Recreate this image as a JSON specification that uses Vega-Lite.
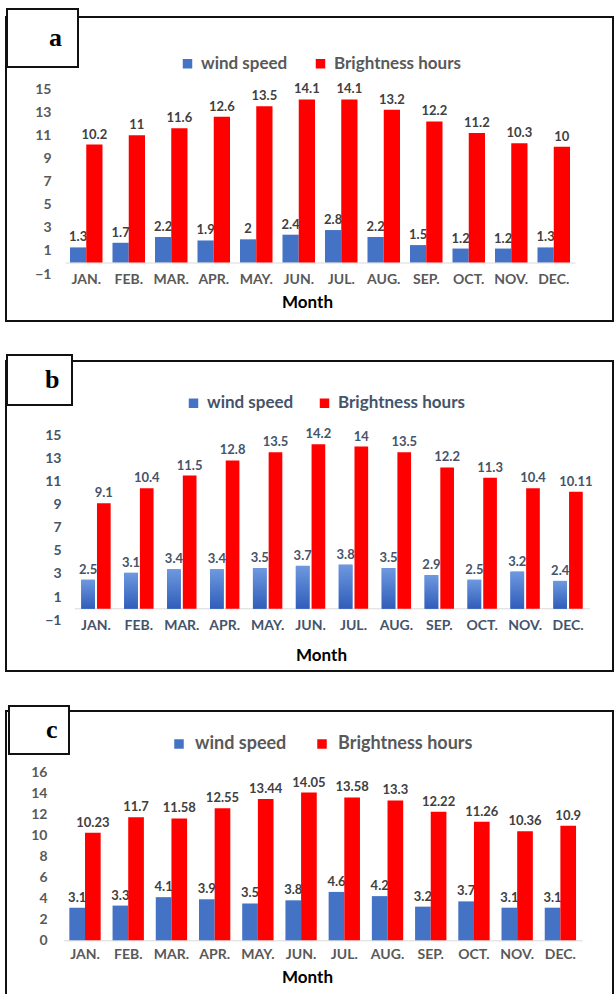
{
  "$schema": "https://vega.github.io/schema/vega-lite/v6.json",
  "padding": {"left": 5, "top": 7, "right": 0, "bottom": 0},
  "autosize": {"type": "pad"},
  "bounds": "flush",
  "spacing": 40,
  "background": "white",
  "config": {
    "view": {"stroke": "#111111", "strokeWidth": 2},
    "font": "Lato",
    "axis": {"grid": false, "labelFont": "Lato", "labelFontWeight": "bold", "titleFont": "Lato"},
    "legend": {"padding": 0, "strokeWidth": 2}
  },
  "datasets": {
    "a": [
      {"panel": "a", "month": "JAN.", "series": "wind speed", "value": 1.3},
      {"panel": "a", "month": "JAN.", "series": "Brightness hours", "value": 10.2},
      {"panel": "a", "month": "FEB.", "series": "wind speed", "value": 1.7},
      {"panel": "a", "month": "FEB.", "series": "Brightness hours", "value": 11},
      {"panel": "a", "month": "MAR.", "series": "wind speed", "value": 2.2},
      {"panel": "a", "month": "MAR.", "series": "Brightness hours", "value": 11.6},
      {"panel": "a", "month": "APR.", "series": "wind speed", "value": 1.9},
      {"panel": "a", "month": "APR.", "series": "Brightness hours", "value": 12.6},
      {"panel": "a", "month": "MAY.", "series": "wind speed", "value": 2},
      {"panel": "a", "month": "MAY.", "series": "Brightness hours", "value": 13.5},
      {"panel": "a", "month": "JUN.", "series": "wind speed", "value": 2.4},
      {"panel": "a", "month": "JUN.", "series": "Brightness hours", "value": 14.1},
      {"panel": "a", "month": "JUL.", "series": "wind speed", "value": 2.8},
      {"panel": "a", "month": "JUL.", "series": "Brightness hours", "value": 14.1},
      {"panel": "a", "month": "AUG.", "series": "wind speed", "value": 2.2},
      {"panel": "a", "month": "AUG.", "series": "Brightness hours", "value": 13.2},
      {"panel": "a", "month": "SEP.", "series": "wind speed", "value": 1.5},
      {"panel": "a", "month": "SEP.", "series": "Brightness hours", "value": 12.2},
      {"panel": "a", "month": "OCT.", "series": "wind speed", "value": 1.2},
      {"panel": "a", "month": "OCT.", "series": "Brightness hours", "value": 11.2},
      {"panel": "a", "month": "NOV.", "series": "wind speed", "value": 1.2},
      {"panel": "a", "month": "NOV.", "series": "Brightness hours", "value": 10.3},
      {"panel": "a", "month": "DEC.", "series": "wind speed", "value": 1.3},
      {"panel": "a", "month": "DEC.", "series": "Brightness hours", "value": 10}
    ],
    "b": [
      {"panel": "b", "month": "JAN.", "series": "wind speed", "value": 2.5},
      {"panel": "b", "month": "JAN.", "series": "Brightness hours", "value": 9.1},
      {"panel": "b", "month": "FEB.", "series": "wind speed", "value": 3.1},
      {"panel": "b", "month": "FEB.", "series": "Brightness hours", "value": 10.4},
      {"panel": "b", "month": "MAR.", "series": "wind speed", "value": 3.4},
      {"panel": "b", "month": "MAR.", "series": "Brightness hours", "value": 11.5},
      {"panel": "b", "month": "APR.", "series": "wind speed", "value": 3.4},
      {"panel": "b", "month": "APR.", "series": "Brightness hours", "value": 12.8},
      {"panel": "b", "month": "MAY.", "series": "wind speed", "value": 3.5},
      {"panel": "b", "month": "MAY.", "series": "Brightness hours", "value": 13.5},
      {"panel": "b", "month": "JUN.", "series": "wind speed", "value": 3.7},
      {"panel": "b", "month": "JUN.", "series": "Brightness hours", "value": 14.2},
      {"panel": "b", "month": "JUL.", "series": "wind speed", "value": 3.8},
      {"panel": "b", "month": "JUL.", "series": "Brightness hours", "value": 14},
      {"panel": "b", "month": "AUG.", "series": "wind speed", "value": 3.5},
      {"panel": "b", "month": "AUG.", "series": "Brightness hours", "value": 13.5},
      {"panel": "b", "month": "SEP.", "series": "wind speed", "value": 2.9},
      {"panel": "b", "month": "SEP.", "series": "Brightness hours", "value": 12.2},
      {"panel": "b", "month": "OCT.", "series": "wind speed", "value": 2.5},
      {"panel": "b", "month": "OCT.", "series": "Brightness hours", "value": 11.3},
      {"panel": "b", "month": "NOV.", "series": "wind speed", "value": 3.2},
      {"panel": "b", "month": "NOV.", "series": "Brightness hours", "value": 10.4},
      {"panel": "b", "month": "DEC.", "series": "wind speed", "value": 2.4},
      {"panel": "b", "month": "DEC.", "series": "Brightness hours", "value": 10.11}
    ],
    "c": [
      {"panel": "c", "month": "JAN.", "series": "wind speed", "value": 3.1},
      {"panel": "c", "month": "JAN.", "series": "Brightness hours", "value": 10.23},
      {"panel": "c", "month": "FEB.", "series": "wind speed", "value": 3.3},
      {"panel": "c", "month": "FEB.", "series": "Brightness hours", "value": 11.7},
      {"panel": "c", "month": "MAR.", "series": "wind speed", "value": 4.1},
      {"panel": "c", "month": "MAR.", "series": "Brightness hours", "value": 11.58},
      {"panel": "c", "month": "APR.", "series": "wind speed", "value": 3.9},
      {"panel": "c", "month": "APR.", "series": "Brightness hours", "value": 12.55},
      {"panel": "c", "month": "MAY.", "series": "wind speed", "value": 3.5},
      {"panel": "c", "month": "MAY.", "series": "Brightness hours", "value": 13.44},
      {"panel": "c", "month": "JUN.", "series": "wind speed", "value": 3.8},
      {"panel": "c", "month": "JUN.", "series": "Brightness hours", "value": 14.05},
      {"panel": "c", "month": "JUL.", "series": "wind speed", "value": 4.6},
      {"panel": "c", "month": "JUL.", "series": "Brightness hours", "value": 13.58},
      {"panel": "c", "month": "AUG.", "series": "wind speed", "value": 4.2},
      {"panel": "c", "month": "AUG.", "series": "Brightness hours", "value": 13.3},
      {"panel": "c", "month": "SEP.", "series": "wind speed", "value": 3.2},
      {"panel": "c", "month": "SEP.", "series": "Brightness hours", "value": 12.22},
      {"panel": "c", "month": "OCT.", "series": "wind speed", "value": 3.7},
      {"panel": "c", "month": "OCT.", "series": "Brightness hours", "value": 11.26},
      {"panel": "c", "month": "NOV.", "series": "wind speed", "value": 3.1},
      {"panel": "c", "month": "NOV.", "series": "Brightness hours", "value": 10.36},
      {"panel": "c", "month": "DEC.", "series": "wind speed", "value": 3.1},
      {"panel": "c", "month": "DEC.", "series": "Brightness hours", "value": 10.9}
    ]
  },
  "resolve": {
    "scale": {"x": "independent", "y": "independent", "xOffset": "independent", "color": "independent", "opacity": "independent"},
    "axis": {"x": "independent", "y": "independent"},
    "legend": {"color": "independent", "opacity": "independent"}
  },
  "vconcat": [
    {
      "width": 607,
      "height": 304,
      "data": {"name": "a"},
      "encoding": {
        "x": {
          "field": "month", "type": "nominal", "sort": null,
          "scale": {"range": [59, 569], "paddingInner": 0.235, "paddingOuter": 0.1175},
          "axis": {
            "orient": "bottom", "offset": -58.5, "labelAngle": 0, "ticks": false, "tickSize": 0,
            "domainColor": "#D9D9D9", "domainWidth": 1, "labelPadding": 10, "labelFontSize": 14, "labelColor": "#595959",
            "title": "Month", "titleFontSize": 17, "titleFontWeight": "bold", "titleColor": "#000000", "titlePadding": 8, "titleX": 301
          }
        },
        "xOffset": {"field": "series", "type": "nominal", "sort": ["wind speed", "Brightness hours"], "scale": {"paddingInner": 0}},
        "y": {
          "field": "value", "type": "quantitative",
          "scale": {"domain": [-1, 15], "range": [257, 72], "nice": false},
          "axis": {"values": [-1, 1, 3, 5, 7, 9, 11, 13, 15], "domain": false, "ticks": false, "tickSize": 0, "labelPadding": 0, "offset": -45, "title": null, "labelFontSize": 14, "labelColor": "#595959"}
        }
      },
      "layer": [
        {
          "mark": {"type": "text", "baseline": "bottom", "dy": -3, "fontSize": 13, "fontWeight": "bold", "font": "Lato", "color": "#404040"},
          "encoding": {
            "text": {"field": "value", "type": "quantitative"},
            "opacity": {
              "field": "panel", "type": "ordinal", "scale": {"range": [1, 1]},
              "legend": {
                "orient": "none", "legendX": 1, "legendY": -8, "title": null, "symbolSize": 0, "symbolOpacity": 0, "symbolStrokeWidth": 0,
                "labelOffset": 0, "labelFont": "Liberation Serif", "labelFontWeight": "bold", "labelFontSize": 26, "labelColor": "#000000",
                "labelExpr": "'\u00a0\u00a0' + datum.label + '\u00a0\u00a0'", "padding": 16, "strokeColor": "#111111", "fillColor": "white"
              }
            }
          }
        },
        {
          "mark": {"type": "bar"},
          "encoding": {
            "color": {
              "field": "series", "type": "nominal",
              "scale": {"domain": ["wind speed", "Brightness hours"], "range": ["#4472C4", "#FF0000"]},
              "legend": {
                "orient": "none", "legendX": 173, "legendY": 38, "direction": "horizontal", "title": null, "symbolType": "square", "symbolSize": 90,
                "symbolStrokeWidth": 0, "labelFont": "Lato", "labelFontWeight": "bold", "labelFontSize": 17, "labelColor": "#595959", "labelOffset": 5,
                "columnPadding": 24, "labelLimit": 0
              }
            }
          }
        }
      ]
    },
    {
      "width": 607,
      "height": 310,
      "data": {"name": "b"},
      "encoding": {
        "x": {
          "field": "month", "type": "nominal", "sort": null,
          "scale": {"range": [68.5, 583.5], "paddingInner": 0.315, "paddingOuter": 0.1575},
          "axis": {
            "orient": "bottom", "offset": -62.7, "labelAngle": 0, "ticks": false, "tickSize": 0,
            "domainColor": "#D9D9D9", "domainWidth": 1, "labelPadding": 10, "labelFontSize": 14, "labelColor": "#44546A",
            "title": "Month", "titleFontSize": 17, "titleFontWeight": "bold", "titleColor": "#000000", "titlePadding": 15, "titleX": 315
          }
        },
        "xOffset": {"field": "series", "type": "nominal", "sort": ["wind speed", "Brightness hours"], "scale": {"domain": ["wind speed", "Brightness hours"], "paddingInner": 0.13}},
        "y": {
          "field": "value", "type": "quantitative",
          "scale": {"domain": [-1, 15], "range": [259.3, 74], "nice": false},
          "axis": {"values": [-1, 1, 3, 5, 7, 9, 11, 13, 15], "domain": false, "ticks": false, "tickSize": 0, "labelPadding": 0, "offset": -55, "title": null, "labelFontSize": 14, "labelColor": "#44546A"}
        }
      },
      "layer": [
        {
          "mark": {"type": "text", "baseline": "bottom", "dy": -3, "fontSize": 13, "fontWeight": "bold", "font": "Lato", "color": "#44546A"},
          "encoding": {
            "text": {"field": "value", "type": "quantitative"},
            "opacity": {
              "field": "panel", "type": "ordinal", "scale": {"range": [1, 1]},
              "legend": {
                "orient": "none", "legendX": 1, "legendY": -6, "title": null, "symbolSize": 0, "symbolOpacity": 0, "symbolStrokeWidth": 0,
                "labelOffset": 0, "labelFont": "Liberation Serif", "labelFontWeight": "bold", "labelFontSize": 26, "labelColor": "#000000",
                "labelExpr": "'\u00a0\u00a0\u00a0' + datum.label + '\u00a0\u00a0\u00a0'", "padding": 12, "strokeColor": "#111111", "fillColor": "white"
              }
            }
          }
        },
        {
          "mark": {"type": "bar"},
          "encoding": {
            "color": {
              "field": "series", "type": "nominal",
              "scale": {"domain": ["wind speed", "Brightness hours"], "range": ["#4472C4", "#FF0000"]},
              "legend": {
                "orient": "none", "legendX": 179, "legendY": 33.5, "direction": "horizontal", "title": null, "symbolType": "square", "symbolSize": 90,
                "symbolStrokeWidth": 0, "labelFont": "Lato", "labelFontWeight": "bold", "labelFontSize": 17, "labelColor": "#44546A", "labelOffset": 5,
                "columnPadding": 22, "labelLimit": 0
              }
            }
          }
        },
        {
          "transform": [{"filter": "datum.series === 'wind speed'"}],
          "mark": {"type": "bar", "fill": {"gradient": "linear", "x1": 0, "y1": 0, "x2": 0, "y2": 1, "stops": [{"offset": 0, "color": "#6E98DF"}, {"offset": 1, "color": "#2F5DBA"}]}},
          "encoding": {}
        }
      ]
    },
    {
      "width": 607,
      "height": 284,
      "data": {"name": "c"},
      "encoding": {
        "x": {
          "field": "month", "type": "nominal", "sort": null,
          "scale": {"range": [57.4, 576], "paddingInner": 0.275, "paddingOuter": 0.1375},
          "axis": {
            "orient": "bottom", "offset": -54.7, "labelAngle": 0, "ticks": false, "tickSize": 0,
            "domainColor": "#D9D9D9", "domainWidth": 1, "labelPadding": 7, "labelFontSize": 14, "labelColor": "#595959",
            "title": "Month", "titleFontSize": 17, "titleFontWeight": "bold", "titleColor": "#000000", "titlePadding": 8, "titleX": 301
          }
        },
        "xOffset": {"field": "series", "type": "nominal", "sort": ["wind speed", "Brightness hours"], "scale": {"paddingInner": 0}},
        "y": {
          "field": "value", "type": "quantitative",
          "scale": {"domain": [0, 16], "range": [229.3, 61], "nice": false},
          "axis": {"values": [0, 2, 4, 6, 8, 10, 12, 14, 16], "domain": false, "ticks": false, "tickSize": 0, "labelPadding": 0, "offset": -41, "title": null, "labelFontSize": 14, "labelColor": "#595959"}
        }
      },
      "layer": [
        {
          "mark": {"type": "text", "baseline": "bottom", "dy": -3, "fontSize": 13, "fontWeight": "bold", "font": "Lato", "color": "#404040"},
          "encoding": {
            "text": {"field": "value", "type": "quantitative"},
            "opacity": {
              "field": "panel", "type": "ordinal", "scale": {"range": [1, 1]},
              "legend": {
                "orient": "none", "legendX": 3, "legendY": -5, "title": null, "symbolSize": 0, "symbolOpacity": 0, "symbolStrokeWidth": 0,
                "labelOffset": 0, "labelFont": "Liberation Serif", "labelFontWeight": "bold", "labelFontSize": 26, "labelColor": "#000000",
                "labelExpr": "'\u00a0\u00a0\u00a0' + datum.label + '\u00a0\u00a0\u00a0'", "padding": 11, "strokeColor": "#111111", "fillColor": "white"
              }
            }
          }
        },
        {
          "mark": {"type": "bar"},
          "encoding": {
            "color": {
              "field": "series", "type": "nominal",
              "scale": {"domain": ["wind speed", "Brightness hours"], "range": ["#4472C4", "#FF0000"]},
              "legend": {
                "orient": "none", "legendX": 164, "legendY": 24, "direction": "horizontal", "title": null, "symbolType": "square", "symbolSize": 90,
                "symbolStrokeWidth": 0, "labelFont": "Lato", "labelFontWeight": "bold", "labelFontSize": 18, "labelColor": "#595959", "labelOffset": 7,
                "columnPadding": 26, "labelLimit": 0
              }
            }
          }
        }
      ]
    }
  ]
}
